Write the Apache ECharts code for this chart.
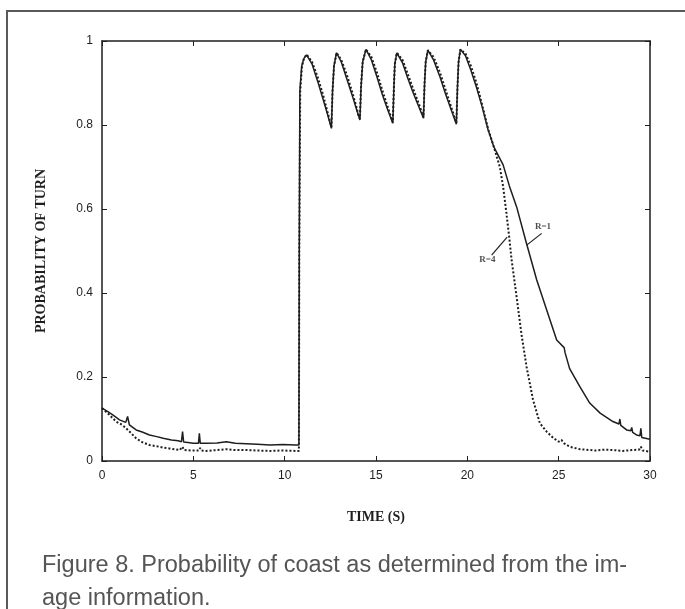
<!DOCTYPE html>
<html>
<head>
<meta charset="utf-8">
<script src="https://cdn.jsdelivr.net/npm/echarts@6/dist/echarts.min.js"></script>
<style>
html,body{margin:0;padding:0;background:#fff;}
#chart{width:685px;height:609px;}
</style>
</head>
<body>
<div id="chart"></div>
<script>
// ---- data ----
const xTicks = [0, 5, 10, 15, 20, 25, 30];
const yTicks = [0, 0.2, 0.4, 0.6, 0.8, 1];

const timeR1 = [0, 0.3, 0.59, 0.96, 1.3, 1.4, 1.5, 1.87, 2.2, 2.6, 3.0, 3.35, 3.8, 4.17, 4.35, 4.41, 4.47, 4.7, 5.0, 5.28, 5.33, 5.38, 5.7, 6.3, 6.8, 7.3, 7.9, 8.5, 9.2, 9.9, 10.6, 10.78,
  10.8, 10.83, 10.93, 11.05, 11.2,
  11.5, 11.8, 12.1, 12.35, 12.56, 12.62, 12.7, 12.84,
  13.1, 13.4, 13.7, 13.95, 14.12, 14.18, 14.27, 14.45,
  14.75, 15.05, 15.35, 15.65, 15.92, 15.98, 16.03, 16.14,
  16.45, 16.75, 17.05, 17.35, 17.6, 17.66, 17.72, 17.84,
  18.15, 18.5, 18.8, 19.1, 19.4, 19.46, 19.52, 19.62,
  19.9, 20.2, 20.5, 20.8, 21.14, 21.45, 21.96, 22.3, 22.7, 23.24, 23.8, 24.34, 24.89, 25.3, 25.35, 25.6, 26.16, 26.7, 27.27, 27.97, 28.3, 28.35, 28.4, 28.72, 28.95, 29.0, 29.05, 29.26, 29.45, 29.5, 29.55, 29.6, 30];
const probR1 = [0.126, 0.118, 0.11, 0.098, 0.092, 0.106, 0.086, 0.074, 0.069, 0.062, 0.058, 0.054, 0.05, 0.048, 0.046, 0.07, 0.045, 0.044, 0.042, 0.042, 0.066, 0.042, 0.042, 0.043, 0.046, 0.042, 0.041, 0.04, 0.038, 0.039, 0.038, 0.038,
  0.5, 0.88, 0.94, 0.958, 0.967,
  0.945, 0.905, 0.862, 0.825, 0.792, 0.88, 0.94, 0.972,
  0.95, 0.91, 0.87, 0.835, 0.812, 0.89, 0.95, 0.98,
  0.955, 0.915, 0.872, 0.835, 0.804, 0.89, 0.945, 0.972,
  0.948, 0.91, 0.875, 0.843, 0.816, 0.9, 0.95, 0.978,
  0.955, 0.915, 0.875, 0.838, 0.802, 0.89, 0.95, 0.98,
  0.965, 0.93, 0.89, 0.845, 0.788, 0.748, 0.705, 0.655, 0.605, 0.518, 0.431, 0.36, 0.288, 0.27, 0.258, 0.22, 0.177, 0.138, 0.114, 0.094, 0.088, 0.1, 0.085, 0.074, 0.072, 0.08, 0.068, 0.062, 0.06, 0.078, 0.056, 0.054, 0.052];

const timeR4 = [0, 0.4, 0.77, 1.1, 1.32, 1.6, 1.87, 2.2, 2.6, 3.0, 3.35, 3.8, 4.26, 4.4, 4.5, 4.9, 5.3, 5.37, 5.45, 5.7, 6.3, 6.8, 7.3, 7.9, 8.5, 9.2, 9.9, 10.6, 10.78,
  10.8, 10.85, 10.95, 11.05, 11.2,
  11.5, 11.8, 12.1, 12.35, 12.56, 12.62, 12.7, 12.84,
  13.1, 13.4, 13.7, 13.95, 14.05, 14.12, 14.18, 14.27, 14.45,
  14.75, 15.05, 15.35, 15.65, 15.92, 15.98, 16.03, 16.14,
  16.45, 16.75, 17.05, 17.35, 17.6, 17.66, 17.72, 17.84,
  18.15, 18.5, 18.8, 19.1, 19.4, 19.46, 19.52, 19.62,
  19.9, 20.2, 20.5, 20.8, 21.14, 21.45, 21.78, 21.96, 22.14, 22.3, 22.42, 22.7, 22.97, 23.24, 23.6, 23.97, 24.34, 24.7, 25.0, 25.15, 25.3, 25.6, 26.17, 27.0, 27.5, 28.0, 28.5, 29.0, 29.4, 29.5, 29.6, 30];
const probR4 = [0.126, 0.11, 0.094, 0.086, 0.078, 0.066, 0.054, 0.045, 0.038, 0.035, 0.032, 0.029, 0.026, 0.034, 0.026, 0.025, 0.025, 0.031, 0.025, 0.024, 0.026, 0.028, 0.026, 0.026, 0.025, 0.024, 0.025, 0.024, 0.024,
  0.5, 0.88, 0.94, 0.958, 0.968,
  0.95, 0.915, 0.872, 0.83, 0.795, 0.88, 0.94, 0.972,
  0.955, 0.92, 0.878, 0.84, 0.82, 0.815, 0.89, 0.95, 0.98,
  0.962, 0.925, 0.882, 0.842, 0.806, 0.89, 0.945, 0.972,
  0.955, 0.92, 0.884, 0.85, 0.818, 0.9, 0.95, 0.978,
  0.962, 0.925, 0.885, 0.845, 0.805, 0.89, 0.95, 0.98,
  0.97, 0.94, 0.9, 0.85, 0.79, 0.748, 0.70, 0.653, 0.59, 0.53, 0.48, 0.39, 0.30, 0.225, 0.145, 0.09, 0.07, 0.055, 0.046, 0.05, 0.042, 0.034, 0.028, 0.025, 0.027, 0.026, 0.024, 0.026, 0.027, 0.034, 0.025, 0.022];

// annotation positions in data units
const labelR1 = [24.14, 0.557];
const pointerR1 = [[24.07, 0.542], [23.25, 0.514]];
const labelR4 = [21.1, 0.479];
const pointerR4 = [[21.33, 0.49], [22.18, 0.533]];

const captionLines = ['Figure 8. Probability of coast as determined from the im-', 'age information.'];

// ---- chart ----
const zip = (a, b) => a.map((t, i) => [t, b[i]]);
const chart = echarts.init(document.getElementById('chart'), null, {renderer: 'canvas'});
const ink = '#1e1e1e';
const axisCommon = {
  min: 0,
  axisLine: {show: true, onZero: false, lineStyle: {color: ink, width: 1.5}},
  axisTick: {show: true, inside: true, length: 5, lineStyle: {color: ink, width: 1}},
  splitLine: {show: false}
};
const serifBold = {fontFamily: 'Liberation Serif', fontWeight: 'bold', fontSize: 14, color: ink};

chart.setOption({
  animation: false,
  backgroundColor: '#ffffff',
  grid: {left: 102, right: 35, top: 41, bottom: 148},
  xAxis: [
    Object.assign({}, axisCommon, {
      type: 'value', max: 30, interval: 5, position: 'bottom',
      name: 'TIME (S)', nameLocation: 'middle', nameGap: 49, nameTextStyle: serifBold,
      axisLabel: {color: ink, fontFamily: 'Liberation Sans', fontSize: 12, margin: 9,
        formatter: v => xTicks.includes(v) ? String(v) : ''}
    }),
    Object.assign({}, axisCommon, {
      type: 'value', max: 30, interval: 5, position: 'top', axisLabel: {show: false}
    })
  ],
  yAxis: [
    Object.assign({}, axisCommon, {
      type: 'value', max: 1, interval: 0.2, position: 'left',
      name: 'PROBABILITY OF TURN', nameLocation: 'middle', nameGap: 54, nameRotate: 90, nameTextStyle: serifBold,
      axisLabel: {color: ink, fontFamily: 'Liberation Sans', fontSize: 12, margin: 9,
        formatter: v => { const m = yTicks.find(t => Math.abs(t - v) < 1e-9); return m === undefined ? '' : String(m); }}
    }),
    Object.assign({}, axisCommon, {
      type: 'value', max: 1, interval: 0.2, position: 'right', axisLabel: {show: false}
    })
  ],
  series: [
    {name: 'R=1', type: 'line', data: zip(timeR1, probR1), showSymbol: false, symbol: 'none',
      lineStyle: {color: ink, width: 1.5}, z: 3},
    {name: 'R=4', type: 'line', data: zip(timeR4, probR4), showSymbol: false, symbol: 'none',
      lineStyle: {color: ink, width: 2, type: [2, 2]}, z: 2},
    {type: 'line', data: pointerR1, showSymbol: false, symbol: 'none', silent: true,
      lineStyle: {color: ink, width: 1.2}},
    {type: 'line', data: pointerR4, showSymbol: false, symbol: 'none', silent: true,
      lineStyle: {color: ink, width: 1.2}},
    {type: 'scatter', symbolSize: 0, silent: true,
      data: [{value: labelR1, name: 'R=1'}, {value: labelR4, name: 'R=4'}],
      label: {show: true, position: 'inside', formatter: p => p.name,
        fontFamily: 'Liberation Serif', fontWeight: 'bold', fontSize: 9, color: ink}}
  ],
  graphic: [
    {type: 'rect', shape: {x: 7, y: 11, width: 700, height: 640},
      style: {fill: 'none', stroke: '#5a5a5a', lineWidth: 2}, silent: true},
    {type: 'text', left: 42, top: 549,
      style: {text: captionLines.join('\n'), font: '23.5px "Liberation Sans"', fill: '#555555', lineHeight: 33}}
  ]
});
</script>
</body>
</html>
